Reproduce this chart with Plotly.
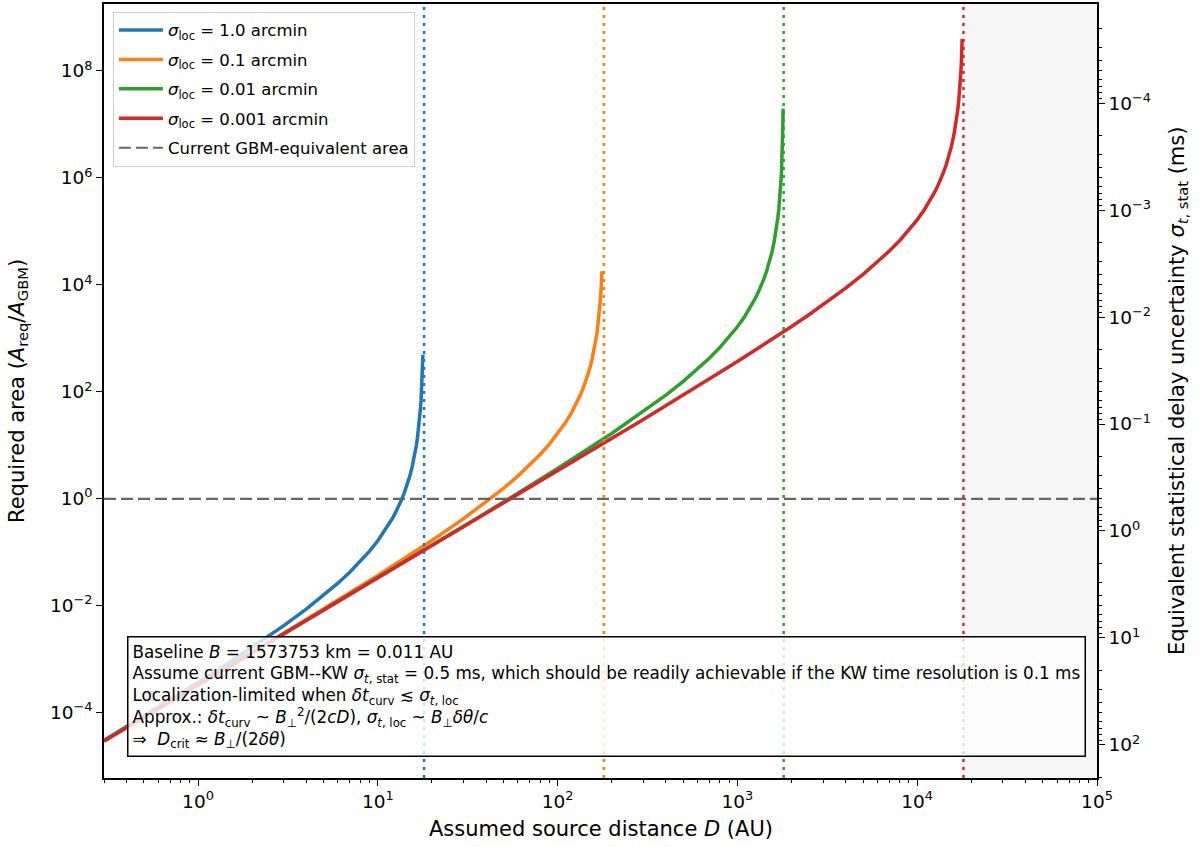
import math
import plotly.graph_objects as go

FONT = "DejaVu Sans"

# ---------------- data ----------------
SERIES_NAMES = ["<i>σ</i><sub>loc</sub> = 1.0 arcmin",
                "<i>σ</i><sub>loc</sub> = 0.1 arcmin",
                "<i>σ</i><sub>loc</sub> = 0.01 arcmin",
                "<i>σ</i><sub>loc</sub> = 0.001 arcmin"]
COLORS = ["#1f77b4", "#ff7f0e", "#2ca02c", "#d62728"]

D_blue = [0.3, 0.5, 0.7, 1, 1.5, 2, 3, 4, 5, 6, 7, 8, 9, 10, 11, 12, 12.5, 13, 13.5,
          14, 14.5, 15, 15.5, 16, 16.2, 16.4, 16.6, 16.8, 17, 17.1, 17.2, 17.3, 17.4,
          17.5, 17.6, 17.7, 17.75, 17.82]
A_blue = [3.0515e-5, 8.670e-5, 1.7387e-4, 3.674e-4, 8.773e-4, 1.6581e-3, 4.2419e-3,
          8.650e-3, 0.015661, 0.026439, 0.042774, 0.067501, 0.10527, 0.16413, 0.25864,
          0.41734, 0.53756, 0.70151, 0.93053, 1.26099, 1.75645, 2.5393, 3.86243, 6.3308,
          7.94048, 10.1874, 13.4438, 18.399, 26.456, 32.4813, 40.7324, 52.449, 69.697,
          96.875, 142.69, 229.98, 305.6, 495.4]

D_orange = [0.3, 1, 3, 10, 20, 30, 40, 50, 60, 70, 80, 90, 100, 110, 120, 125, 130,
            135, 140, 145, 150, 155, 160, 162, 164, 165, 166, 168, 170, 171, 172, 173,
            174, 175, 176, 176.5]
A_orange = [2.9610e-5, 3.3156e-4, 3.0515e-3, 0.036741, 0.16581, 0.42419, 0.8650,
            1.5661, 2.6439, 4.2773, 6.7501, 10.527, 16.412, 25.864, 41.731, 53.756,
            70.151, 93.053, 126.10, 175.645, 253.93, 386.243, 633.08, 794.048, 1018.74,
            1166.1, 1344.38, 1839.9, 2645.6, 3248.13, 4073.24, 5244.9, 6969.7, 9687.5,
            14269, 17884]

D_green = [0.3, 1, 10, 30, 50, 100, 200, 300, 400, 500, 600, 700, 800, 900, 1000, 1100,
           1200, 1250, 1300, 1350, 1400, 1450, 1500, 1550, 1600, 1620, 1640, 1650, 1660,
           1680, 1700, 1710, 1720, 1730, 1740, 1750, 1760, 1770, 1775, 1782, 1788, 1795]
A_green = [2.9521e-5, 3.2826e-4, 0.033156, 0.30515, 0.8670, 3.674, 16.581, 42.419,
           86.50, 156.61, 264.39, 427.74, 675.01, 1052.7, 1641.3, 2586.4, 4173.4, 5375.6,
           7015.1, 9305.3, 12610, 17564.5, 25393, 38624.3, 63308, 79404.8, 101874,
           116610, 134438, 183990, 264560, 324813, 407324, 524490, 696970, 968750,
           1.4269e6, 2.2998e6, 3.056e6, 4.954e6, 8.364e6, 1.969e7]

D_red = [0.3, 1, 3, 10, 30, 100, 300, 1000, 1500, 2000, 2500, 3000, 4000, 5000, 6000,
         7000, 8000, 9000, 10000, 11000, 12000, 12500, 13000, 13500, 14000, 14500, 15000,
         15500, 16000, 16200, 16400, 16500, 16600, 16800, 17000, 17100, 17200, 17300,
         17400, 17500, 17600, 17700, 17750, 17790]
A_red = [2.9512e-5, 3.2794e-4, 2.9521e-3, 0.032827, 0.29609, 3.3156, 30.515, 367.41,
         877.3, 1658.1, 2759.7, 4241.9, 8650, 15661, 26439, 42774, 67501, 105270, 164130,
         258640, 417340, 537560, 701510, 930530, 1.26099e6, 1.75645e6, 2.5393e6,
         3.86243e6, 6.3308e6, 7.94048e6, 1.01874e7, 1.1661e7, 1.34438e7, 1.8399e7,
         2.6456e7, 3.24813e7, 4.07324e7, 5.2449e7, 6.9697e7, 9.6875e7, 1.4269e8,
         2.2998e8, 3.056e8, 3.967e8]

D_CRIT = [18.08, 180.8, 1808.2, 18082.0]       # vertical dotted lines (AU)
GBM_LEVEL = 1.0                                # current GBM-equivalent area
GBM_LABEL = "Current GBM-equivalent area"
SIGMA_REF_MS = 0.5                             # sigma_t,stat for A = A_GBM

X_LIM = [0.3, 1e5]
Y_LIM_LOG = [-5.22, 9.25]

X_MAJOR = [1, 10, 100, 1000, 10000, 100000]
X_MAJOR_TEXT = ["10<sup>0</sup>", "10<sup>1</sup>", "10<sup>2</sup>", "10<sup>3</sup>",
                "10<sup>4</sup>", "10<sup>5</sup>"]
Y_MAJOR = [1e-4, 1e-2, 1e0, 1e2, 1e4, 1e6, 1e8]
Y_MAJOR_TEXT = ["10<sup>−4</sup>", "10<sup>−2</sup>", "10<sup>0</sup>", "10<sup>2</sup>",
                "10<sup>4</sup>", "10<sup>6</sup>", "10<sup>8</sup>"]
SIGMA_MAJOR = [1e-4, 1e-3, 1e-2, 1e-1, 1, 10, 100]
SIGMA_MAJOR_TEXT = ["10<sup>−4</sup>", "10<sup>−3</sup>", "10<sup>−2</sup>",
                    "10<sup>−1</sup>", "10<sup>0</sup>", "10<sup>1</sup>", "10<sup>2</sup>"]

BOX_LINES = [
    "Baseline <i>B</i> = 1573753 km = 0.011 AU",
    "Assume current GBM--KW <i>σ</i><sub><i>t</i>, stat</sub> = 0.5 ms, which should be readily achievable if the KW time resolution is 0.1 ms",
    "Localization-limited when <i>δt</i><sub>curv</sub> ≲ <i>σ</i><sub><i>t</i>, loc</sub>",
    "Approx.: <i>δt</i><sub>curv</sub> ~ <i>B</i><sub>⊥</sub><sup>2</sup>/(2<i>cD</i>), <i>σ</i><sub><i>t</i>, loc</sub> ~ <i>B</i><sub>⊥</sub><i>δθ</i>/<i>c</i>",
    "⇒  <i>D</i><sub>crit</sub> ≈ <i>B</i><sub>⊥</sub>/(2<i>δθ</i>)",
]

# ---------------- derived helpers ----------------
y_lo, y_hi = 10 ** Y_LIM_LOG[0], 10 ** Y_LIM_LOG[1]
x_range_log = [math.log10(X_LIM[0]), math.log10(X_LIM[1])]

def sigma_to_area(s):
    return (SIGMA_REF_MS / s) ** 2

x_minor = [k * 10 ** n for n in range(-1, 5) for k in range(2, 10)
           if X_LIM[0] <= k * 10 ** n <= X_LIM[1]]
sig_minor = []
for n in range(-6, 3):
    for k in range(2, 10):
        a = sigma_to_area(k * 10 ** n)
        if y_lo <= a <= y_hi:
            sig_minor.append(a)

fig = go.Figure()

# shaded region beyond the largest critical distance
fig.add_trace(go.Scatter(
    x=[D_CRIT[-1], X_LIM[1], X_LIM[1], D_CRIT[-1], D_CRIT[-1]],
    y=[y_lo, y_lo, y_hi, y_hi, y_lo], mode="lines", fill="toself",
    fillcolor="rgba(128,128,128,0.07)", line=dict(width=0),
    showlegend=False, hoverinfo="skip"))

series = [(D_blue, A_blue), (D_orange, A_orange), (D_green, A_green), (D_red, A_red)]
for i, ((dx, ay), name, col) in enumerate(zip(series, SERIES_NAMES, COLORS)):
    fig.add_trace(go.Scatter(x=dx, y=ay, mode="lines", name=name, legendgroup=f"g{i}",
                             line=dict(color=col, width=3.5)))

fig.add_trace(go.Scatter(x=X_LIM, y=[GBM_LEVEL, GBM_LEVEL], mode="lines",
                         name=GBM_LABEL, legendgroup="g4",
                         line=dict(color="#666666", width=2.2, dash="12px,5px")))

for dc, col in zip(D_CRIT, COLORS):
    fig.add_trace(go.Scatter(x=[dc, dc], y=[y_lo, y_hi], mode="lines",
                             line=dict(color=col, width=2.5, dash="3px,5px"),
                             showlegend=False, hoverinfo="skip"))

# invisible trace to activate the secondary axis
fig.add_trace(go.Scatter(x=[X_LIM[0]], y=[GBM_LEVEL], yaxis="y2", mode="markers",
                         marker=dict(opacity=0), showlegend=False, hoverinfo="skip"))

tickfont = dict(family=FONT, size=18.5, color="black")
fig.update_layout(
    width=1200, height=847,
    margin=dict(l=104, r=103, t=2, b=69),
    paper_bgcolor="white", plot_bgcolor="white",
    font=dict(family=FONT, size=16, color="black"),
    xaxis=dict(type="log", range=x_range_log, showgrid=False, zeroline=False,
               showline=True, linecolor="black", linewidth=1.5, mirror=True,
               ticks="outside", ticklen=6, tickwidth=1.3, tickcolor="black",
               tickmode="array", tickvals=X_MAJOR, ticktext=X_MAJOR_TEXT,
               tickfont=tickfont,
               minor=dict(tickmode="array", tickvals=x_minor, ticks="outside",
                          ticklen=3.5, tickwidth=1, tickcolor="black", showgrid=False)),
    yaxis=dict(type="log", range=Y_LIM_LOG, showgrid=False, zeroline=False,
               showline=True, linecolor="black", linewidth=1.5,
               ticks="outside", ticklen=6, tickwidth=1.3, tickcolor="black",
               tickmode="array", tickvals=Y_MAJOR, ticktext=Y_MAJOR_TEXT,
               tickfont=tickfont),
    yaxis2=dict(type="log", range=Y_LIM_LOG, overlaying="y", side="right",
                showgrid=False, zeroline=False, showline=True, linecolor="black",
                linewidth=1.5, ticks="outside", ticklen=6, tickwidth=1.3,
                tickcolor="black", tickmode="array",
                tickvals=[sigma_to_area(s) for s in SIGMA_MAJOR],
                ticktext=SIGMA_MAJOR_TEXT, tickfont=tickfont,
                minor=dict(tickmode="array", tickvals=sig_minor, ticks="outside",
                           ticklen=3.5, tickwidth=1, tickcolor="black", showgrid=False)),
    legend=dict(x=0.009, y=0.99, xanchor="left", yanchor="top",
                bgcolor="rgba(255,255,255,0.8)", bordercolor="#cccccc", borderwidth=1,
                font=dict(family=FONT, size=16.5), itemwidth=44, tracegroupgap=5),
    showlegend=True,
)

# axis titles
fig.add_annotation(text="Assumed source distance <i>D</i> (AU)", xref="paper", yref="paper",
                   x=0.5, y=-0.066, xanchor="center", yanchor="middle", showarrow=False,
                   font=dict(family=FONT, size=21))
fig.add_annotation(text="Required area (<i>A</i><sub>req</sub>/<i>A</i><sub>GBM</sub>)",
                   xref="paper", yref="paper", x=-0.0866, y=0.5, textangle=-90,
                   xanchor="center", yanchor="middle", showarrow=False,
                   font=dict(family=FONT, size=21))
fig.add_annotation(text="Equivalent statistical delay uncertainty <i>σ</i><sub><i>t</i>, stat</sub> (ms)",
                   xref="paper", yref="paper", x=1.0816, y=0.5, textangle=-90,
                   xanchor="center", yanchor="middle", showarrow=False,
                   font=dict(family=FONT, size=21))

# info box
fig.add_annotation(text="<br>".join(BOX_LINES), xref="paper", yref="paper",
                   x=0.0232, y=0.027, xanchor="left", yanchor="bottom", align="left",
                   showarrow=False, bgcolor="rgba(255,255,255,0.8)",
                   bordercolor="black", borderwidth=1.5, borderpad=4,
                   font=dict(family=FONT, size=16.8))

fig.write_html("out.html")
